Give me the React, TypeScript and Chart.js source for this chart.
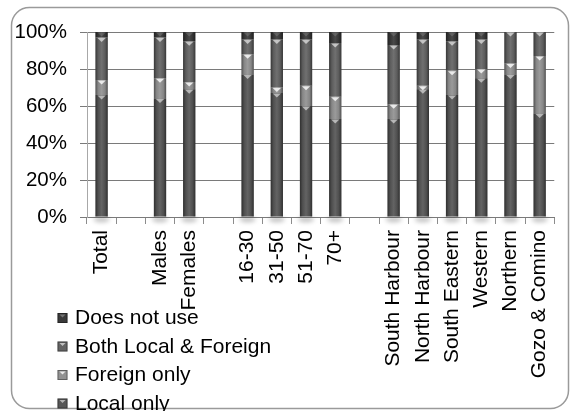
import React, { useEffect, useRef } from 'react';
import { Chart, registerables } from 'chart.js';

Chart.register(...registerables);

// Categories (empty strings are spacer slots between groups)
const categories = [
  'Total', '', 'Males', 'Females', '', '16-30', '31-50', '51-70', '70+', '',
  'South Harbour', 'North Harbour', 'South Eastern', 'Western', 'Northern', 'Gozo & Comino',
];

// Share of respondents (%) per category
const localOnly = [66, null, 64, 69, null, 77, 67, 60, 53, null, 53, 69, 66, 75, 77, 56];
const foreignOnly = [8, null, 11, 4, null, 11, 3, 11, 12, null, 8, 2, 13, 5, 6, 31];
const bothLocalForeign = [23, null, 22, 22, null, 8, 26, 25, 29, null, 32, 25, 16, 16, 17, 13];
const doesNotUse = [3, null, 3, 5, null, 4, 4, 4, 6, null, 7, 4, 5, 4, 0, 0];

const yTicks = [0, 20, 40, 60, 80, 100];

const seriesNames = ['Local only', 'Foreign only', 'Both Local & Foreign', 'Does not use'];
const seriesColors = ['#565656', '#929292', '#646464', '#3a3a3a'];
const bevelAlpha = [0.55, 0.8, 0.6, 0.15];

const FONT = "'Liberation Sans', Arial, sans-serif";

// Rounded frame around the whole chart
const framePlugin = {
  id: 'frame',
  beforeDraw(chart: any) {
    const ctx = chart.ctx as CanvasRenderingContext2D;
    ctx.save();
    ctx.fillStyle = '#ffffff';
    ctx.fillRect(0, 0, chart.width, chart.height);
    const x0 = 11.5, y0 = 7.5, x1 = 568.5, y1 = 408.5, r = 18;
    ctx.beginPath();
    ctx.moveTo(x0 + r, y0);
    ctx.lineTo(x1 - r, y0);
    ctx.arcTo(x1, y0, x1, y0 + r, r);
    ctx.lineTo(x1, y1 - r);
    ctx.arcTo(x1, y1, x1 - r, y1, r);
    ctx.lineTo(x0 + r, y1);
    ctx.arcTo(x0, y1, x0, y1 - r, r);
    ctx.lineTo(x0, y0 + r);
    ctx.arcTo(x0, y0, x0 + r, y0, r);
    ctx.closePath();
    ctx.strokeStyle = '#9a9a9a';
    ctx.lineWidth = 1.5;
    ctx.stroke();
    ctx.restore();
  },
};

// Soft shadow under each column
const shadowPlugin = {
  id: 'barShadow',
  beforeDatasetsDraw(chart: any) {
    const ctx = chart.ctx as CanvasRenderingContext2D;
    const meta = chart.getDatasetMeta(0);
    ctx.save();
    ctx.filter = 'blur(2px)';
    ctx.fillStyle = 'rgba(0,0,0,0.22)';
    meta.data.forEach((el: any, i: number) => {
      if (chart.data.datasets[0].data[i] == null) return;
      const { x, base, width } = el.getProps(['x', 'base', 'width'], true);
      ctx.beginPath();
      ctx.ellipse(x, base + 3, width / 2 + 2, 3, 0, 0, Math.PI * 2);
      ctx.fill();
    });
    ctx.restore();
  },
};

// Cylinder-like shading and bevel at the top of each segment
const shadingPlugin = {
  id: 'barShading',
  afterDatasetsDraw(chart: any) {
    const ctx = chart.ctx as CanvasRenderingContext2D;
    chart.data.datasets.forEach((ds: any, di: number) => {
      const meta = chart.getDatasetMeta(di);
      meta.data.forEach((el: any, i: number) => {
        const v = ds.data[i];
        if (v == null || v === 0) return;
        const { x, y, base, width } = el.getProps(['x', 'y', 'base', 'width'], true);
        const left = x - width / 2;
        const right = x + width / 2;
        const top = Math.min(y, base);
        const bottom = Math.max(y, base);
        const g = ctx.createLinearGradient(left, 0, right, 0);
        g.addColorStop(0, 'rgba(0,0,0,0.45)');
        g.addColorStop(0.22, 'rgba(0,0,0,0.08)');
        g.addColorStop(0.5, 'rgba(255,255,255,0.08)');
        g.addColorStop(0.78, 'rgba(0,0,0,0.08)');
        g.addColorStop(1, 'rgba(0,0,0,0.45)');
        ctx.save();
        ctx.fillStyle = g;
        ctx.fillRect(left, top, width, bottom - top);
        if (bottom - top > 3) {
          ctx.fillStyle = `rgba(255,255,255,${bevelAlpha[di]})`;
          ctx.beginPath();
          ctx.moveTo(left + 2, top + 0.5);
          ctx.lineTo(right - 2, top + 0.5);
          ctx.lineTo(x, top + 4.5);
          ctx.closePath();
          ctx.fill();
        }
        ctx.restore();
      });
    });
  },
};

// Vertical legend in the lower-left corner, top series first
const legendPlugin = {
  id: 'sideLegend',
  afterDraw(chart: any) {
    const ctx = chart.ctx as CanvasRenderingContext2D;
    ctx.save();
    ctx.font = `21px ${FONT}`;
    ctx.textAlign = 'left';
    ctx.textBaseline = 'alphabetic';
    const order = [3, 2, 1, 0];
    order.forEach((si, row) => {
      const baseline = 324 + row * 28.5;
      const cy = baseline - 6;
      const sx = 57.5, s = 10;
      ctx.fillStyle = seriesColors[si];
      ctx.fillRect(sx, cy - s / 2, s, s);
      ctx.strokeStyle = 'rgba(0,0,0,0.35)';
      ctx.lineWidth = 1;
      ctx.strokeRect(sx + 0.5, cy - s / 2 + 0.5, s - 1, s - 1);
      ctx.fillStyle = `rgba(255,255,255,${Math.max(bevelAlpha[si], 0.3)})`;
      ctx.beginPath();
      ctx.moveTo(sx + 2, cy - s / 2 + 1.5);
      ctx.lineTo(sx + s - 2, cy - s / 2 + 1.5);
      ctx.lineTo(sx + s / 2, cy - s / 2 + 4.5);
      ctx.closePath();
      ctx.fill();
      ctx.fillStyle = '#000000';
      ctx.fillText(seriesNames[si], 75, baseline);
    });
    ctx.restore();
  },
};

export default function App() {
  const canvasRef = useRef<HTMLCanvasElement | null>(null);

  useEffect(() => {
    const canvas = canvasRef.current;
    if (!canvas) return;
    const seriesData = [localOnly, foreignOnly, bothLocalForeign, doesNotUse];
    const chart = new Chart(canvas, {
      type: 'bar',
      data: {
        labels: categories,
        datasets: seriesData.map((d, i) => ({
          label: seriesNames[i],
          data: d,
          backgroundColor: seriesColors[i],
          borderWidth: 0,
          barPercentage: 0.42,
          categoryPercentage: 1,
        })),
      },
      options: {
        responsive: false,
        animation: false,
        layout: { padding: { top: 32, right: 4, bottom: 0, left: 0 } },
        plugins: {
          legend: { display: false },
          tooltip: { enabled: false },
        },
        scales: {
          x: {
            stacked: true,
            offset: true,
            grid: {
              display: true,
              drawOnChartArea: false,
              drawTicks: true,
              tickLength: 7,
              color: '#8c8c8c',
              offset: true,
            },
            border: { display: true, color: '#7a7a7a' },
            ticks: {
              autoSkip: false,
              minRotation: 90,
              maxRotation: 90,
              padding: 6,
              color: '#000000',
              font: { family: FONT, size: 21 },
            },
            afterFit: (s: any) => {
              s.height = 194;
            },
          },
          y: {
            stacked: true,
            min: 0,
            max: 100,
            afterBuildTicks: (s: any) => {
              s.ticks = yTicks.map((v) => ({ value: v }));
            },
            grid: { color: '#7a7a7a', tickLength: 7, lineWidth: 1 },
            border: { display: true, color: '#a8a8a8' },
            ticks: {
              padding: 13,
              color: '#000000',
              font: { family: FONT, size: 20.5 },
              callback: (v: any) => `${v}%`,
            },
            afterFit: (s: any) => {
              s.width = 87;
            },
          },
        },
      } as any,
      plugins: [framePlugin, shadowPlugin, shadingPlugin, legendPlugin],
    });
    return () => chart.destroy();
  }, []);

  return (
    <div style={{ position: 'absolute', left: 0, top: 0, width: 571, height: 411 }}>
      <canvas ref={canvasRef} width={571} height={411} style={{ display: 'block' }} />
    </div>
  );
}
